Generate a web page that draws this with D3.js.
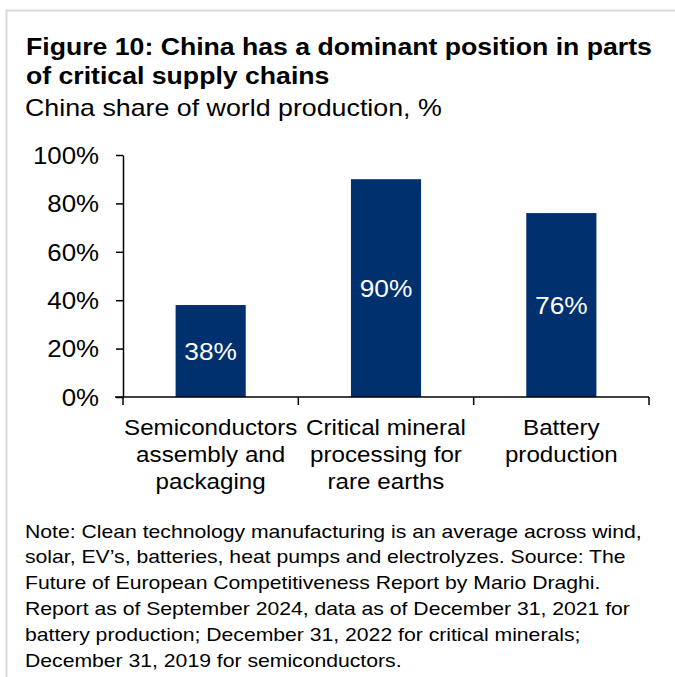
<!DOCTYPE html>
<html><head><meta charset="utf-8">
<script src="https://cdn.jsdelivr.net/npm/d3@7"></script>
<style>
html,body{margin:0;padding:0;background:#fff;}
svg{display:block;font-family:Arial,"Liberation Sans",sans-serif;}
</style></head>
<body>
<script>
const categories = [
  ["Semiconductors","assembly and","packaging"],
  ["Critical mineral","processing for","rare earths"],
  ["Battery","production"]
];
const values = [38, 90, 76];
const yTicks = [0, 20, 40, 60, 80, 100];
const titleLines = ["Figure 10: China has a dominant position in parts","of critical supply chains"];
const subtitle = "China share of world production, %";
const noteLines = [
  "Note: Clean technology manufacturing is an average across wind,",
  "solar, EV\u2019s, batteries, heat pumps and electrolyzes. Source: The",
  "Future of European Competitiveness Report by Mario Draghi.",
  "Report as of September 2024, data as of December 31, 2021 for",
  "battery production; December 31, 2022 for critical minerals;",
  "December 31, 2019 for semiconductors."
];

const W = 675, H = 677;
const svg = d3.select("body").append("svg").attr("width", W).attr("height", H);

function place(sel, xf, yf, sx){
  sel.attr("x",0).attr("y",0)
     .attr("transform",(d,i)=>`translate(${xf(d,i)},${yf(d,i)}) scale(${sx},1)`);
}

// frame
svg.append("line").attr("x1",6).attr("x2",W).attr("y1",10.5).attr("y2",10.5).attr("stroke","#d9d9d9").attr("stroke-width",2);
svg.append("line").attr("x1",6.5).attr("x2",6.5).attr("y1",10).attr("y2",H).attr("stroke","#d9d9d9").attr("stroke-width",2);

svg.selectAll(".title").data(titleLines).join("text")
  .attr("font-size",24).attr("font-weight","bold").attr("fill","#000").text(d=>d)
  .call(place, ()=>26, (d,i)=>55+i*28.5, 1.11);
svg.append("text").datum(subtitle).attr("font-size",23).attr("fill","#000").text(d=>d)
  .call(place, ()=>25, ()=>116, 1.165);

const x = d3.scaleBand().domain(d3.range(categories.length)).range([123,649]).paddingInner(0.6).paddingOuter(0.3);
const y = d3.scaleLinear().domain([0,100]).range([397,155]);

// y axis
const yAxis = svg.append("g").attr("transform","translate(123,0)")
  .call(d3.axisLeft(y).tickValues(yTicks).tickFormat(d=>d+"%").tickSize(7).tickSizeOuter(0));
yAxis.select(".domain").attr("stroke","#000").attr("stroke-width",1.5);
yAxis.selectAll(".tick line").attr("stroke","#000").attr("stroke-width",1.5);
yAxis.selectAll(".tick text").attr("font-size",23.5).attr("fill","#000").attr("font-family",null)
  .attr("dy","0.35em").attr("x",0).attr("transform","translate(-24,0) scale(1.1,1)");

// bars
svg.selectAll(".bar").data(values).join("rect")
  .attr("x",(d,i)=>x(i)).attr("width",x.bandwidth())
  .attr("y",d=>y(d)).attr("height",d=>y(0)-y(d)).attr("fill","#00306e");

svg.selectAll(".blabel").data(values).join("text")
  .attr("dy","0.35em").attr("text-anchor","middle").attr("font-size",23.5).attr("fill","#fff")
  .text(d=>d+"%")
  .call(place, (d,i)=>x(i)+x.bandwidth()/2, d=>(y(d)+y(0))/2 + 1, 1.12);

// x axis
const xb = d3.scaleLinear().domain([0,3]).range([123,649]);
svg.append("line").attr("x1",115).attr("x2",649).attr("y1",y(0)).attr("y2",y(0)).attr("stroke","#000").attr("stroke-width",1.5);
svg.selectAll(".xtick").data(d3.range(4)).join("line")
  .attr("x1",d=>xb(d)).attr("x2",d=>xb(d)).attr("y1",y(0)).attr("y2",y(0)+8)
  .attr("stroke","#000").attr("stroke-width",1.5);

categories.forEach((lines,i)=>{
  svg.selectAll(".clabel"+i).data(lines).join("text")
    .attr("text-anchor","middle").attr("font-size",22.5).attr("fill","#000").text(d=>d)
    .call(place, ()=>x(i)+x.bandwidth()/2, (d,j)=>435+j*27, 1.075);
});

svg.selectAll(".note").data(noteLines).join("text")
  .attr("font-size",18.5).attr("fill","#000").text(d=>d)
  .call(place, ()=>25, (d,i)=>537.5+i*25.8, 1.145);
</script>
</body></html>
